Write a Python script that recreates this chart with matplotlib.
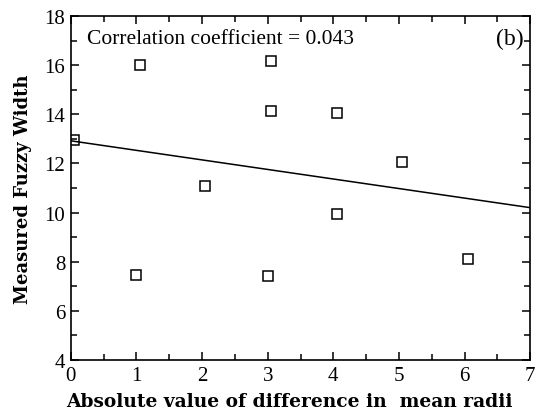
import matplotlib
matplotlib.use("Agg")
import matplotlib.pyplot as plt
from matplotlib.ticker import MultipleLocator

# data
diff_radii = [0.05, 1.05, 1.0, 2.05, 3.05, 3.05, 3.0, 4.05, 4.05, 5.05, 6.05]
fuzzy_width = [12.95, 16.0, 7.45, 11.1, 16.15, 14.15, 7.4, 14.05, 9.95, 12.05, 8.1]

fit_x = [0, 7]
fit_y = [12.92, 10.2]

plt.rcParams["font.family"] = ["Liberation Serif", "DejaVu Serif"]

fig = plt.figure(figsize=(5.41, 4.14), dpi=100)
ax = fig.add_axes([0.131, 0.128, 0.849, 0.831])

ax.plot(fit_x, fit_y, color="black", linewidth=1.1)
ax.plot(diff_radii, fuzzy_width, linestyle="none", marker="s", markersize=7.5,
        markerfacecolor="none", markeredgecolor="black", markeredgewidth=1.1)

ax.set_xlim(0, 7)
ax.set_ylim(4, 18)
ax.xaxis.set_major_locator(MultipleLocator(1))
ax.xaxis.set_minor_locator(MultipleLocator(0.5))
ax.yaxis.set_major_locator(MultipleLocator(2))
ax.yaxis.set_minor_locator(MultipleLocator(1))
ax.tick_params(which="both", direction="in", top=True, right=True,
               labelsize=15, width=1.1)
ax.tick_params(which="major", length=6)
ax.tick_params(which="minor", length=4)
ax.tick_params(axis="x", pad=4)
ax.tick_params(axis="y", pad=4)
for s in ax.spines.values():
    s.set_linewidth(1.2)

ax.text(0.035, 0.935, "Correlation coefficient = 0.043", transform=ax.transAxes,
        fontsize=15.5, ha="left", va="center")
ax.text(0.985, 0.935, "(b)", transform=ax.transAxes,
        fontsize=17, ha="right", va="center")

ax.set_ylabel("Measured Fuzzy Width", fontsize=13, fontweight="bold",
              family=["DejaVu Serif"], labelpad=9)
fig.text(0.535, 0.028, "Absolute value of difference in  mean radii",
         fontsize=13.4, fontweight="bold", family=["DejaVu Serif"],
         ha="center", va="center")

fig.savefig("out.png", dpi=100)
